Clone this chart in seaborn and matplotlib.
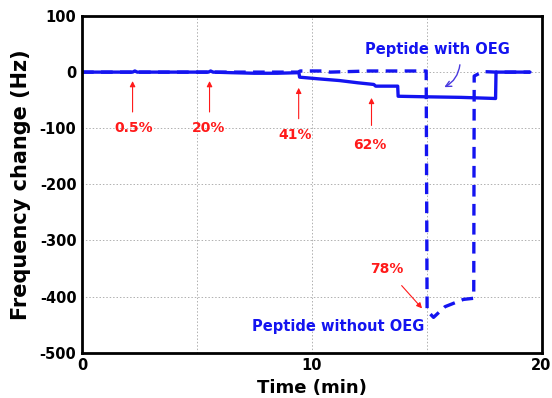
import numpy as np
import pandas as pd
import seaborn as sns
import matplotlib.pyplot as plt

# peptide with OEG (solid)
t_oeg = [0, 2.2, 2.3, 2.4, 5.5, 5.6, 5.7, 6.5, 7.5, 8.5, 9.44, 9.47, 10.3, 11.2, 12.0, 12.7, 12.78, 13.74, 13.76, 15.0, 16.5, 18.0, 18.02, 19.5]
f_oeg = [0, 0, 2, 0, 0, 2, 0, -1, -2, -2, -1, -9, -12, -15, -19, -22, -25, -25, -43, -44, -45, -47, 0, 0]

# peptide without OEG (dashed)
t_no = [0, 9.4, 9.5, 10.5, 10.8, 12.5, 14.98, 15.02, 15.3, 15.8, 16.6, 17.05, 17.07, 17.45, 18.0, 19.5]
f_no = [0, 0, 2, 2, 0, 2, 2, -425, -437, -418, -405, -403, -7, 1, 0, 0]

# injection marks
inj_labels = ['0.5%', '20%', '41%', '62%']
inj_t = [2.2, 5.55, 9.43, 12.6]
inj_head = [-11, -11, -23, -41]
inj_tail = [-76, -76, -88, -100]
lab_t = [2.26, 5.5, 9.27, 12.54]
lab_f = [-100, -100, -112, -130]

blue = '#1414f0'
red = '#ff1a1a'

sns.set_style('white')
plt.rcParams['font.family'] = ['DejaVu Sans']
plt.rcParams['font.weight'] = 'bold'
plt.rcParams['axes.unicode_minus'] = False

fig = plt.figure(figsize=(5.52, 3.98), dpi=100)
ax = fig.add_axes([0.1486, 0.1138, 0.8324, 0.846])

df_oeg = pd.DataFrame({'t': t_oeg, 'f': f_oeg})
df_no = pd.DataFrame({'t': t_no, 'f': f_no})
sns.lineplot(data=df_no, x='t', y='f', sort=False, estimator=None, ax=ax,
             color=blue, lw=2.4, linestyle=(0, (3.5, 2.2)))
sns.lineplot(data=df_oeg, x='t', y='f', sort=False, estimator=None, ax=ax,
             color=blue, lw=2.4)

ax.set_xlim(0, 20)
ax.set_ylim(-500, 100)
ax.set_xticks([0, 5, 10, 15, 20])
ax.set_xticklabels(['0', '', '10', '', '20'])
ax.set_yticks(range(-500, 101, 100))
ax.grid(True, ls=(0, (1.5, 2)), lw=0.7, color='#b0b0b0')
ax.tick_params(direction='in', length=4, width=1.5, labelsize=10.5, pad=4,
               colors='black')
for lab in ax.get_xticklabels() + ax.get_yticklabels():
    lab.set_fontweight('bold')
for s in ax.spines.values():
    s.set_linewidth(2)
    s.set_color('black')

ax.set_xlabel('Time (min)', fontsize=13, fontweight='bold', labelpad=4, color='black')
ax.set_ylabel('Frequency change (Hz)', fontsize=15, fontweight='bold', labelpad=6,
              color='black')

for lab, t, h, tl, lt, lf in zip(inj_labels, inj_t, inj_head, inj_tail, lab_t, lab_f):
    ax.annotate('', xy=(t, h), xytext=(t, tl),
                arrowprops=dict(arrowstyle='-|>', color=red, lw=0.8, mutation_scale=8))
    ax.text(lt, lf, lab, color=red, fontsize=10, fontweight='bold', ha='center', va='center')

ax.annotate('78%', xy=(14.8, -421), xytext=(13.27, -351), color=red, fontsize=10,
            fontweight='bold', ha='center', va='center',
            arrowprops=dict(arrowstyle='-|>', color=red, lw=0.8, mutation_scale=8,
                            shrinkA=6, shrinkB=0))

ax.text(11.15, -453, 'Peptide without OEG', color=blue, fontsize=10.5,
        fontweight='bold', ha='center', va='center')
ax.text(15.47, 40, 'Peptide with OEG', color=blue, fontsize=10.5,
        fontweight='bold', ha='center', va='center')
ax.annotate('', xy=(15.66, -29), xytext=(16.46, 18),
            arrowprops=dict(arrowstyle='->', color='#4a3adf', lw=1.0,
                            connectionstyle='arc3,rad=-0.3'))

fig.savefig('out.png', dpi=100)
